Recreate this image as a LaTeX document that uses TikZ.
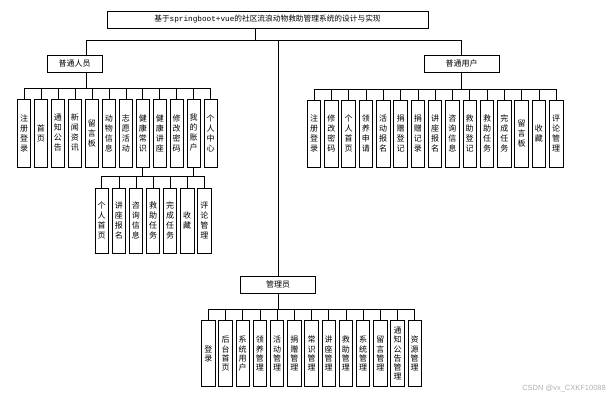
\documentclass[tikz,border=0pt]{standalone}
\usepackage{fontspec}
\setmainfont{Noto Sans CJK SC}
\newfontfamily\monofont{Liberation Mono}
\newfontfamily\wmfont{Liberation Sans}
\begin{document}
\begin{tikzpicture}[x=1pt,y=-1pt,
  box/.style={draw, line width=0.8pt, inner sep=0pt, align=center, fill=white},
  hbox/.style={box, minimum height=17, font=\fontsize{8}{10}\selectfont},
  vbox/.style={box, minimum width=13.5, minimum height=68, font=\fontsize{8}{10}\selectfont},
  sbox/.style={vbox, minimum height=65},
  abox/.style={vbox, minimum height=66, font=\fontsize{8}{9.3}\selectfont},
  link/.style={line width=0.6pt}]
\fill[white] (0,0) rectangle (615,401);
\useasboundingbox (0,0) rectangle (615,401);

% title and second level
\node[box, minimum width=321, minimum height=17, font=\fontsize{7.7}{9}\selectfont] (title) at (267.5,19.5)
  {基于{\monofont springboot+vue}的社区流浪动物救助管理系统的设计与实现};
\node[hbox, minimum width=55] (pL) at (74.5,63.5) {普通人员};
\node[hbox, minimum width=75] (pR) at (461.5,63.5) {普通用户};
\node[hbox, minimum width=74.3] (pA) at (278,284.7) {管理员};

\coordinate (jT) at (255,40);
\coordinate (bL) at (86,40);
\coordinate (bR) at (461.5,40);
\coordinate (bA) at (278.3,40);
\draw[link] (title.south -| jT) -- (jT);
\draw[link] (pL.north -| bL) -- (bL) -- (bR) -- (pR.north);
\draw[link] (bA) -- (pA.north -| bA);

% 普通人员 children
\coordinate (jL) at (86,88);
\draw[link] (pL.south -| jL) -- (jL);
\foreach \t [count=\i from 0] in {{注\\册\\登\\录},{首\\页},{通\\知\\公\\告},{新\\闻\\资\\讯},{留\\言\\板},{动\\物\\信\\息},{志\\愿\\活\\动},{健\\康\\常\\识},{健\\康\\讲\\座},{修\\改\\密\\码},{我\\的\\账\\户},{个\\人\\中\\心}}{
  \node[vbox] (L\i) at ({24+16.97*\i},133) {\t};
  \draw[link] (jL) -| (L\i.north);
}

% 我的账户 sub children
\coordinate (jS) at (193.7,176);
\draw[link] (L7.south) -- (L7.south |- jS);
\draw[link] (L10.south) -- (L10.south |- jS);
\foreach \t [count=\i from 0] in {{个\\人\\首\\页},{讲\\座\\报\\名},{咨\\询\\信\\息},{救\\助\\任\\务},{完\\成\\任\\务},{收\\藏},{评\\论\\管\\理}}{
  \node[sbox] (S\i) at ({101.7+17.1*\i},220.5) {\t};
  \draw[link] (L10.south |- jS) -| (S\i.north);
}

% 普通用户 children
\coordinate (jR) at (461.5,89);
\draw[link] (pR.south) -- (jR);
\foreach \t [count=\i from 0] in {{注\\册\\登\\录},{修\\改\\密\\码},{个\\人\\首\\页},{领\\养\\申\\请},{活\\动\\报\\名},{捐\\赠\\登\\记},{捐\\赠\\记\\录},{讲\\座\\报\\名},{咨\\询\\信\\息},{救\\助\\登\\记},{救\\助\\任\\务},{完\\成\\任\\务},{留\\言\\板},{收\\藏},{评\\论\\管\\理}}{
  \node[vbox, minimum height=67] (R\i) at ({314+17.3*\i},133.5) {\t};
  \draw[link] (jR) -| (R\i.north);
}

% 管理员 children
\coordinate (jA) at (278.3,309);
\draw[link] (pA.south -| jA) -- (jA);
\foreach \t [count=\i from 0] in {{登\\录},{后\\台\\首\\页},{系\\统\\用\\户},{领\\养\\管\\理},{活\\动\\管\\理},{捐\\赠\\管\\理},{常\\识\\管\\理},{讲\\座\\管\\理},{救\\助\\管\\理},{系\\统\\管\\理},{留\\言\\管\\理},{\fontsize{8}{8}\selectfont 通\\知\\公\\告\\管\\理},{资\\源\\管\\理}}{
  \node[abox] (A\i) at ({208.3+17.2*\i},353.7) {\t};
  \draw[link] (jA) -| (A\i.north);
}

% watermark
\node[text=black!30, font=\wmfont\fontsize{7.5}{9}\selectfont, anchor=east, inner sep=0pt] (wm) at (606,388.5) {CSDN @vx\_CXKF10088};
\end{tikzpicture}
\end{document}
